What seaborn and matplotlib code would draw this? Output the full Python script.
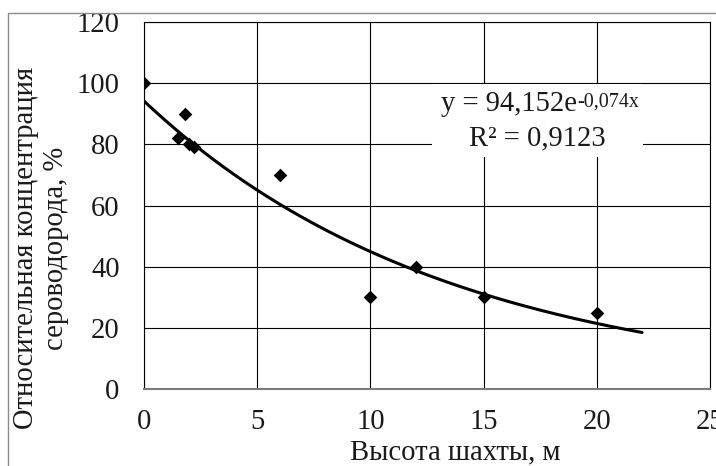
import numpy as np
import pandas as pd
import matplotlib
matplotlib.use("Agg")
import matplotlib.pyplot as plt
from matplotlib.patches import Rectangle
import seaborn as sns

# Measured points: shaft height (m) vs relative H2S concentration (%)
heights = [0, 1.5, 1.8, 2.0, 2.2, 6, 10, 12, 15, 20]
concentration = [100, 82, 90, 80, 79, 70, 30, 40, 30, 25]

# Exponential trendline y = a * exp(b * x)
trend_a = 94.152
trend_b = -0.074
trend_r2 = "0,9123"
trend_x_max = 22

x_ticks = [0, 5, 10, 15, 20, 25]
y_ticks = [0, 20, 40, 60, 80, 100, 120]

sns.set_style("white")
plt.rcParams["font.family"] = ["Liberation Serif", "DejaVu Serif"]

W, H = 716, 466
fig = plt.figure(figsize=(W / 100, H / 100), dpi=100)

# outer chart frame
fig.patches.append(Rectangle((8 / W, -0.2), 1.2, 1.2 - 13 / H,
                             transform=fig.transFigure, fill=False,
                             edgecolor="#8c8c8c", linewidth=1.0))

px_l, px_r, px_t, px_b = 144, 710, 22, 389
ax = fig.add_axes([px_l / W, 1 - px_b / H, (px_r - px_l) / W, (px_b - px_t) / H])

df = pd.DataFrame({"h": heights, "c": concentration})
xs = np.linspace(0, trend_x_max, 200)
trend = pd.DataFrame({"h": xs, "c": trend_a * np.exp(trend_b * xs)})

sns.lineplot(data=trend, x="h", y="c", ax=ax, color="black", linewidth=2.2,
             zorder=4)
sns.scatterplot(data=df, x="h", y="c", ax=ax, marker="D", s=48,
                color="black", edgecolor="black", linewidth=0, zorder=5)

ax.set_xlim(0, 25)
ax.set_ylim(0, 120)
ax.set_xticks(x_ticks)
ax.set_yticks(y_ticks)
ax.grid(True, color="black", linewidth=0.8)
ax.set_axisbelow(True)
for side in ["top", "right", "left"]:
    ax.spines[side].set_color("black")
    ax.spines[side].set_linewidth(0.8)
ax.spines["bottom"].set_color("#7a7a7a")
ax.spines["bottom"].set_linewidth(1.5)

fs = 20.6
txt = "#1a1a1a"
ax.tick_params(axis="both", direction="out", length=6.5, width=0.8,
               color="black", labelsize=fs, labelcolor=txt)
ax.tick_params(axis="y", pad=11)
ax.tick_params(axis="x", pad=8)
ax.set_xlabel("")
ax.set_ylabel("")

# white panel behind the trendline equation
ax.add_patch(Rectangle(((432 - px_l) / 566, (px_b - 157) / 367),
                       (643 - 432) / 566, (157 - 84) / 367,
                       transform=ax.transAxes, facecolor="white",
                       edgecolor="none", zorder=3))
t1 = ax.text((577 - px_l) / 566, (px_b - 104) / 367,
             f"y = {str(trend_a).replace('.', ',')}e",
             transform=ax.transAxes, ha="right", va="center",
             fontsize=fs, color=txt, zorder=6)
ax.annotate(f"{str(trend_b).replace('.', ',')}x", xy=(1, 1), xycoords=t1,
            xytext=(0.3, -1), textcoords="offset points",
            ha="left", va="top", fontsize=14.4, color=txt, zorder=6)
ax.text((537 - px_l) / 566, (px_b - 138) / 367, f"R² = {trend_r2}",
        transform=ax.transAxes, ha="center", va="center",
        fontsize=fs, color=txt, zorder=6)

# axis titles
fig.text(455 / W, 1 - 452 / H, "Высота шахты, м", ha="center", va="center",
         fontsize=fs, color=txt)
fig.text(33 / W, 1 - 248 / H, "Относительная концентрация", rotation=90,
         rotation_mode="anchor", ha="center", va="baseline",
         fontsize=fs, color=txt)
fig.text(63 / W, 1 - 248 / H, "сероводорода, %", rotation=90,
         rotation_mode="anchor", ha="center", va="baseline",
         fontsize=fs, color=txt)

fig.savefig("out.png", dpi=100, facecolor="white")
